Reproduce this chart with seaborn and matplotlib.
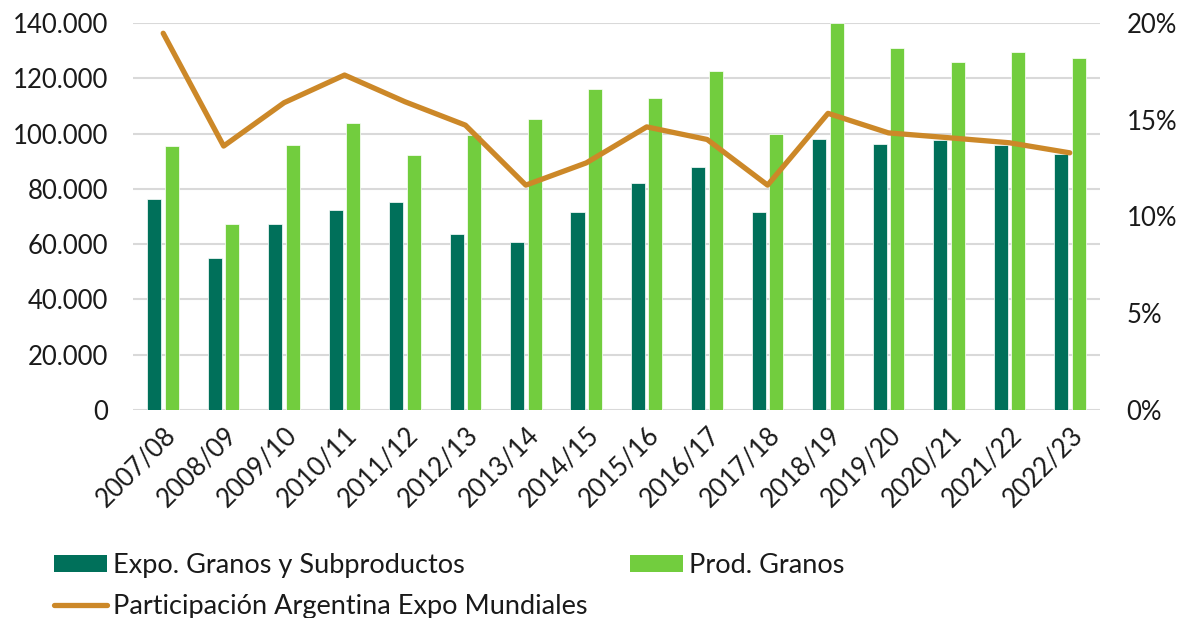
import numpy as np
import pandas as pd
import matplotlib
matplotlib.use("Agg")
import matplotlib.pyplot as plt
from matplotlib.ticker import FuncFormatter, MultipleLocator
from matplotlib.patches import Patch
from matplotlib.lines import Line2D
import seaborn as sns

# Campañas agrícolas
campanas = ["2007/08", "2008/09", "2009/10", "2010/11", "2011/12", "2012/13",
            "2013/14", "2014/15", "2015/16", "2016/17", "2017/18", "2018/19",
            "2019/20", "2020/21", "2021/22", "2022/23"]

# Miles de toneladas
expo_granos = [76500, 55000, 67200, 72200, 75400, 63700, 60900, 71800,
               82200, 87900, 71800, 98000, 96100, 97600, 96000, 92500]
prod_granos = [95500, 67400, 95900, 103700, 92300, 99400, 105200, 116000,
               112700, 122700, 100000, 139900, 131000, 125800, 129600, 127400]

# Participación de Argentina en las exportaciones mundiales (%)
participacion = [19.47, 13.64, 15.88, 17.31, 15.93, 14.72, 11.62, 12.77,
                 14.63, 13.98, 11.62, 15.33, 14.32, 14.07, 13.81, 13.29]

lbl_expo = "Expo. Granos y Subproductos"
lbl_prod = "Prod. Granos"
lbl_part = "Participación Argentina Expo Mundiales"

c_expo = "#00705A"
c_prod = "#72CD3E"
c_part = "#CC8828"
c_grid = "#D9D9D9"
c_text = "#1a1a1a"

sns.set_theme(style="white")
plt.rcParams["font.family"] = ["Lato", "DejaVu Sans"]

df = pd.DataFrame({
    "campana": campanas * 2,
    "valor": expo_granos + prod_granos,
    "serie": [lbl_expo] * len(campanas) + [lbl_prod] * len(campanas),
})

fig = plt.figure(figsize=(11.8, 6.18), dpi=100)
ax = fig.add_axes([0.1127, 0.3366, 0.8195, 0.6262])

sns.barplot(data=df, x="campana", y="valor", hue="serie",
            palette={lbl_expo: c_expo, lbl_prod: c_prod}, saturation=1,
            width=0.58, gap=0.2, ax=ax, legend=False,
            edgecolor="white", linewidth=0.5)

ax.set_ylim(0, 140000)
ax.set_xlim(-0.5, len(campanas) - 0.5)
ax.yaxis.set_major_locator(MultipleLocator(20000))
ax.yaxis.set_major_formatter(FuncFormatter(lambda v, p: f"{int(v):,}".replace(",", ".")))
ax.grid(axis="y", color=c_grid, linewidth=1.5)
ax.set_axisbelow(True)
for s in ax.spines.values():
    s.set_visible(False)
ax.set_xlabel("")
ax.set_ylabel("")
ax.tick_params(axis="y", length=0, pad=18, labelsize=18.5, labelcolor=c_text)
ax.tick_params(axis="x", length=0, pad=9, labelsize=18.5, labelcolor=c_text)
plt.setp(ax.get_xticklabels(), rotation=45, ha="right", rotation_mode="anchor")

ax2 = ax.twinx()
sns.lineplot(x=np.arange(len(campanas)), y=participacion, color=c_part,
             linewidth=3.8, ax=ax2, legend=False)
ax2.set_ylim(0, 20)
ax2.yaxis.set_major_locator(MultipleLocator(5))
ax2.yaxis.set_major_formatter(FuncFormatter(lambda v, p: f"{int(v)}%"))
for s in ax2.spines.values():
    s.set_visible(False)
ax2.tick_params(axis="y", length=0, pad=19, labelsize=18.5, labelcolor=c_text)
ax2.grid(False)
ax2.set_ylabel("")

handles = [Patch(facecolor=c_expo, edgecolor="none"),
           Line2D([0], [0], color=c_part, linewidth=3.8),
           Patch(facecolor=c_prod, edgecolor="none")]
labels = [lbl_expo, lbl_part, lbl_prod]
fig.legend(handles, labels, ncol=2, loc="upper left",
           bbox_to_anchor=(0.046, 0.105), frameon=False, fontsize=19.5,
           handlelength=1.95, handleheight=0.6, handletextpad=0.2,
           columnspacing=1.6, labelspacing=0.6, borderaxespad=0,
           borderpad=0, labelcolor=c_text)

fig.savefig("out.png", dpi=100)
